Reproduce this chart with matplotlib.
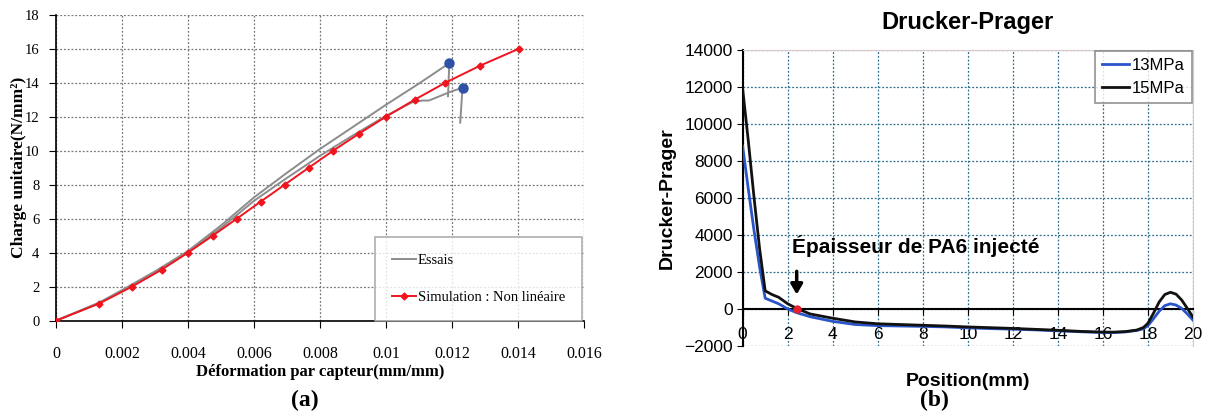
#!/usr/bin/env python3
import matplotlib
matplotlib.use("Agg")
import matplotlib.pyplot as plt

OUTPUT_FILE = "out.png"

# (a) simulation vs. tests
sim_x = [0, 0.0013, 0.0023, 0.0032, 0.0040, 0.00475, 0.00548, 0.0062, 0.00693,
         0.00766, 0.0084, 0.00918, 0.0100, 0.01087, 0.0118, 0.01285, 0.01403]
sim_y = [0, 1, 2, 3, 4, 5, 6, 7, 8, 9, 10, 11, 12, 13, 14, 15, 16]

essai1_x = [0, 0.0013, 0.002, 0.003, 0.004, 0.005, 0.006, 0.007, 0.008,
            0.009, 0.010, 0.011, 0.01192, 0.01188]
essai1_y = [0, 1.05, 1.8, 2.9, 4.1, 5.6, 7.25, 8.7, 10.1, 11.4, 12.7, 13.95,
            15.15, 13.2]
essai2_x = [0, 0.0013, 0.002, 0.003, 0.004, 0.005, 0.006, 0.007, 0.008, 0.009,
            0.010, 0.0108, 0.0111, 0.0113, 0.0120, 0.01232, 0.01225]
essai2_y = [0, 1.05, 1.75, 2.85, 4.05, 5.45, 7.05, 8.4, 9.7, 10.9, 12.05,
            12.85, 12.95, 12.95, 13.5, 13.7, 11.65]
rupture_x = [0.01192, 0.01232]
rupture_y = [15.15, 13.7]

# (b) Drucker-Prager profile
pos = [0, 0.25, 0.5, 0.75, 1.0, 1.3, 1.6, 2.0, 2.4, 3, 4, 5, 6, 7, 8, 9, 10,
       11, 12, 13, 14, 15, 16, 16.5, 17, 17.5, 17.8, 18, 18.25, 18.5, 18.75,
       19, 19.25, 19.5, 19.75, 20]
dp_15 = [11900, 9100, 6100, 3300, 1000, 800, 650, 300, 50, -250, -480, -680,
         -780, -820, -860, -900, -950, -990, -1030, -1080, -1130, -1190, -1230,
         -1230, -1200, -1120, -980, -750, -200, 400, 800, 920, 820, 500, 50,
         -420]
dp_13 = [8800, 6500, 4300, 2300, 600, 450, 300, 20, -180, -400, -650, -820,
         -880, -900, -920, -950, -1000, -1040, -1070, -1110, -1160, -1210,
         -1250, -1250, -1220, -1140, -1050, -880, -500, -100, 200, 300, 230,
         50, -250, -580]
epaisseur = 2.4

SERIF = "Liberation Serif"
SANS = "Liberation Sans"

fig = plt.figure(figsize=(12.06, 4.19), dpi=100)

# ---------------- (a) ----------------
ax1 = fig.add_axes([0.0464, 0.2346, 0.4378, 0.7303])
for ex, ey in [(essai1_x, essai1_y), (essai2_x, essai2_y)]:
    ax1.plot(ex, ey, color="#8c8c8c", lw=1.4, zorder=2)
ax1.plot([], [], color="#8c8c8c", lw=1.4, label="Essais")
ax1.plot(rupture_x, rupture_y, "o", color="#2f52a6", ms=6.5, zorder=4)
ax1.plot(sim_x, sim_y, color="#f0141e", lw=1.4, marker="D", ms=3.5,
         zorder=3, label="Simulation : Non linéaire")
ax1.set_xlim(0, 0.016)
ax1.set_ylim(0, 18)
ax1.set_xticks([0, 0.002, 0.004, 0.006, 0.008, 0.01, 0.012, 0.014, 0.016])
ax1.set_xticklabels(["0", "0.002", "0.004", "0.006", "0.008", "0.01",
                     "0.012", "0.014", "0.016"])
ax1.set_yticks(range(0, 19, 2))
ax1.grid(True, color="#777777", ls=(0, (1.5, 1.5)), lw=0.9)
for s in ["top", "right"]:
    ax1.spines[s].set_visible(False)
ax1.spines["left"].set_linewidth(1.2)
ax1.spines["bottom"].set_linewidth(1.2)
ax1.tick_params(axis="x", direction="out", length=5, pad=13)
ax1.tick_params(axis="y", direction="out", length=5, pad=7)
for lab in ax1.get_xticklabels():
    lab.set_fontfamily(SERIF)
    lab.set_fontsize(11.5)
for lab in ax1.get_yticklabels():
    lab.set_fontfamily(SERIF)
    lab.set_fontsize(10.5)
ax1.set_xlabel("Déformation par capteur(mm/mm)", fontfamily=SERIF,
               fontsize=12, fontweight="bold", labelpad=2)
ax1.set_ylabel("Charge unitaire(N/mm²)", fontfamily=SERIF, fontsize=12.5,
               fontweight="bold")
ax1.yaxis.set_label_coords(-0.055, 0.5)
leg1 = ax1.legend(loc="lower right", bbox_to_anchor=(0.996, 0.0),
                  prop={"family": SERIF, "size": 10.5}, frameon=True,
                  fancybox=False, edgecolor="#999999", labelspacing=1.6,
                  handlelength=1.7, handletextpad=0.1, borderpad=1.15,
                  borderaxespad=0.0)
leg1.get_frame().set_linewidth(1.2)
leg1.set_zorder(5)

# ---------------- (b) ----------------
ax2 = fig.add_axes([0.6158, 0.1733, 0.3734, 0.7074])
ax2.plot(pos, dp_13, color="#2a55c8", lw=2, label="13MPa", zorder=3)
ax2.plot(pos, dp_15, color="#111111", lw=2, label="15MPa", zorder=3)
ax2.plot([epaisseur], [0], "o", color="#e8202a", ms=5, zorder=4)
ax2.annotate("", xy=(epaisseur, 650), xytext=(epaisseur, 2200),
             arrowprops=dict(arrowstyle="-|>,head_width=0.35,head_length=0.6",
                             color="black", lw=2.5))
ax2.text(2.2, 3400, "Épaisseur de PA6 injecté", fontfamily=SANS,
         fontsize=15, fontweight="bold", va="center", ha="left")
ax2.set_xlim(0, 20)
ax2.set_ylim(-2000, 14000)
ax2.set_xticks(range(0, 21, 2))
ax2.set_yticks(range(-2000, 14001, 2000))
ax2.grid(True, color="#2c6d8c", ls=(0, (1.5, 1.5)), lw=0.9)
ax2.spines["bottom"].set_position(("data", 0))
ax2.spines["bottom"].set_linewidth(1.5)
ax2.spines["left"].set_linewidth(1.5)
for s in ["top", "right"]:
    ax2.spines[s].set_color("#d8c8c8")
ax2.tick_params(axis="x", direction="out", length=4, pad=9)
ax2.tick_params(axis="y", direction="out", length=4, pad=3)
for lab in ax2.get_xticklabels() + ax2.get_yticklabels():
    lab.set_fontfamily(SANS)
    lab.set_fontsize(12.5)
ax2.set_xlabel("Position(mm)", fontfamily=SANS, fontsize=14,
               fontweight="bold")
ax2.xaxis.set_label_coords(0.5, -0.09)
ax2.set_ylabel("Drucker-Prager", fontfamily=SANS, fontsize=14,
               fontweight="bold", labelpad=6)
ax2.set_title("Drucker-Prager", fontfamily=SANS, fontsize=17,
              fontweight="bold", pad=15)
leg2 = ax2.legend(loc="upper right", bbox_to_anchor=(0.997, 0.997),
                  prop={"family": SANS, "size": 12}, frameon=True,
                  fancybox=False, edgecolor="#777777", handlelength=1.6,
                  handletextpad=0.2, borderaxespad=0.0, labelspacing=0.5)
leg2.get_frame().set_linewidth(1.2)

fig.text(0.253, 0.045, "(a)", fontfamily=SERIF, fontsize=17,
         fontweight="bold", ha="center", va="center")
fig.text(0.775, 0.045, "(b)", fontfamily=SERIF, fontsize=17,
         fontweight="bold", ha="center", va="center")

fig.savefig(OUTPUT_FILE, dpi=100)
print(f"Plot saved to {OUTPUT_FILE}")
